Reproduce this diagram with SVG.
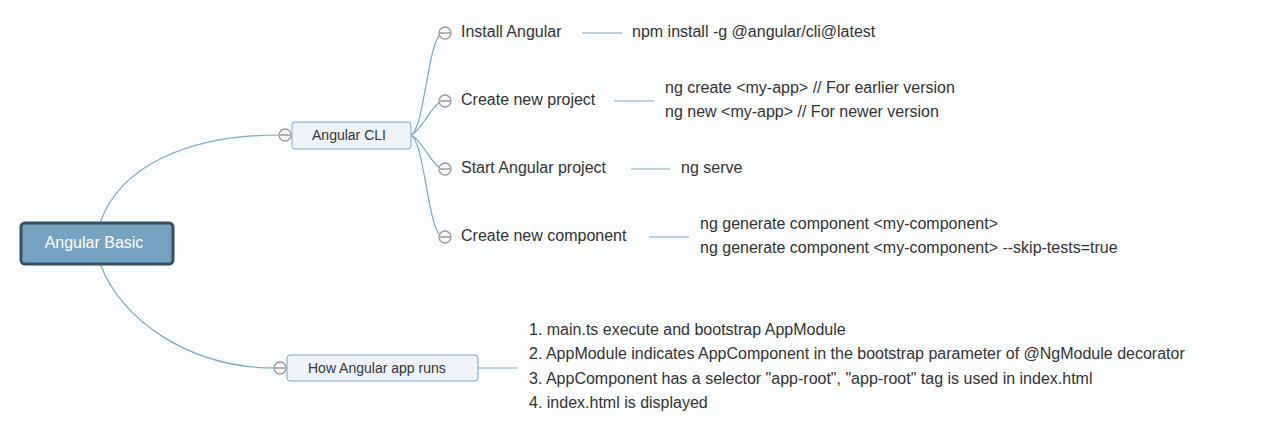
<svg xmlns="http://www.w3.org/2000/svg" width="1283" height="438" viewBox="0 0 1283 438">
<style>
.bg{fill:#fbfcfc}
.c{fill:none;stroke:#7fa7c7;stroke-width:1.2}
.tg circle{fill:#fafafa;stroke:#9a9a9a;stroke-width:1.3}
.tg line{stroke:#8a8a8a;stroke-width:1.3}
.t{font-family:"Liberation Sans",Arial,sans-serif;font-size:16px;fill:#333}
.s{font-family:"Liberation Sans",Arial,sans-serif;font-size:14px;fill:#333}
.sub{fill:#eef3f7;stroke:#7ea6c6;stroke-width:1}
</style>
<rect class="bg" x="0" y="0" width="1283" height="438"/>
<g id="connectors">
<path class="c" d="M100,223 C120,165 190,135 279,135"/>
<path class="c" d="M100,263 C120,320 190,368 275,368"/>
<path class="c" d="M411,135 C424,128 428,45 440,35"/>
<path class="c" d="M411,135 C422,130 430,108 440,102"/>
<path class="c" d="M411,135 C422,140 430,162 440,168"/>
<path class="c" d="M411,135 C424,142 428,225 440,235"/>
<line class="c" x1="478" y1="368" x2="518" y2="368"/>
<line class="c" x1="582" y1="33" x2="622" y2="33"/>
<line class="c" x1="614" y1="101" x2="654" y2="101"/>
<line class="c" x1="631" y1="169" x2="670" y2="169"/>
<line class="c" x1="649" y1="237" x2="689" y2="237"/>
</g>
<g id="root">
<rect x="21" y="223" width="152" height="41" rx="4" fill="#76a2c2" stroke="#374f62" stroke-width="3"/>
<text x="94" y="248" text-anchor="middle" font-family="Liberation Sans,Arial,sans-serif" font-size="16" fill="#fff">Angular Basic</text>
</g>
<g id="angular-cli">
<rect class="sub" x="292" y="122" width="119" height="27" rx="3"/>
<text class="s" x="349" y="140" text-anchor="middle">Angular CLI</text>
<g class="tg"><circle cx="285" cy="135" r="6"/><line x1="280" y1="135" x2="290" y2="135"/></g>
</g>
<g id="how-runs">
<rect class="sub" x="287" y="355" width="191" height="26" rx="3"/>
<text class="s" x="308" y="373">How Angular app runs</text>
<g class="tg"><circle cx="280" cy="368" r="6"/><line x1="275" y1="368" x2="285" y2="368"/></g>
</g>
<g id="install">
<g class="tg"><circle cx="445" cy="33" r="6"/><line x1="440" y1="33" x2="450" y2="33"/></g>
<text class="t" x="461" y="37">Install Angular</text>
</g>
<g id="create-project">
<g class="tg"><circle cx="445" cy="101" r="6"/><line x1="440" y1="101" x2="450" y2="101"/></g>
<text class="t" x="461" y="105">Create new project</text>
</g>
<g id="start-project">
<g class="tg"><circle cx="445" cy="169" r="6"/><line x1="440" y1="169" x2="450" y2="169"/></g>
<text class="t" x="461" y="173">Start Angular project</text>
</g>
<g id="create-component">
<g class="tg"><circle cx="445" cy="237" r="6"/><line x1="440" y1="237" x2="450" y2="237"/></g>
<text class="t" x="461" y="241">Create new component</text>
</g>
<g id="install-leaf"><text class="t" x="632" y="37">npm install -g @angular/cli@latest</text></g>
<g id="create-project-leaf">
<text class="t" x="665" y="93">ng create &lt;my-app&gt; // For earlier version</text>
<text class="t" x="665" y="117">ng new &lt;my-app&gt; // For newer version</text>
</g>
<g id="start-leaf"><text class="t" x="681" y="173">ng serve</text></g>
<g id="component-leaf">
<text class="t" x="700" y="229">ng generate component &lt;my-component&gt;</text>
<text class="t" x="700" y="253">ng generate component &lt;my-component&gt; --skip-tests=true</text>
</g>
<g id="runs-leaf">
<text class="t" x="529" y="335">1. main.ts execute and bootstrap AppModule</text>
<text class="t" x="529" y="359">2. AppModule indicates AppComponent in the bootstrap parameter of @NgModule decorator</text>
<text class="t" x="529" y="384">3. AppComponent has a selector "app-root", "app-root" tag is used in index.html</text>
<text class="t" x="529" y="408">4. index.html is displayed</text>
</g>
</svg>
